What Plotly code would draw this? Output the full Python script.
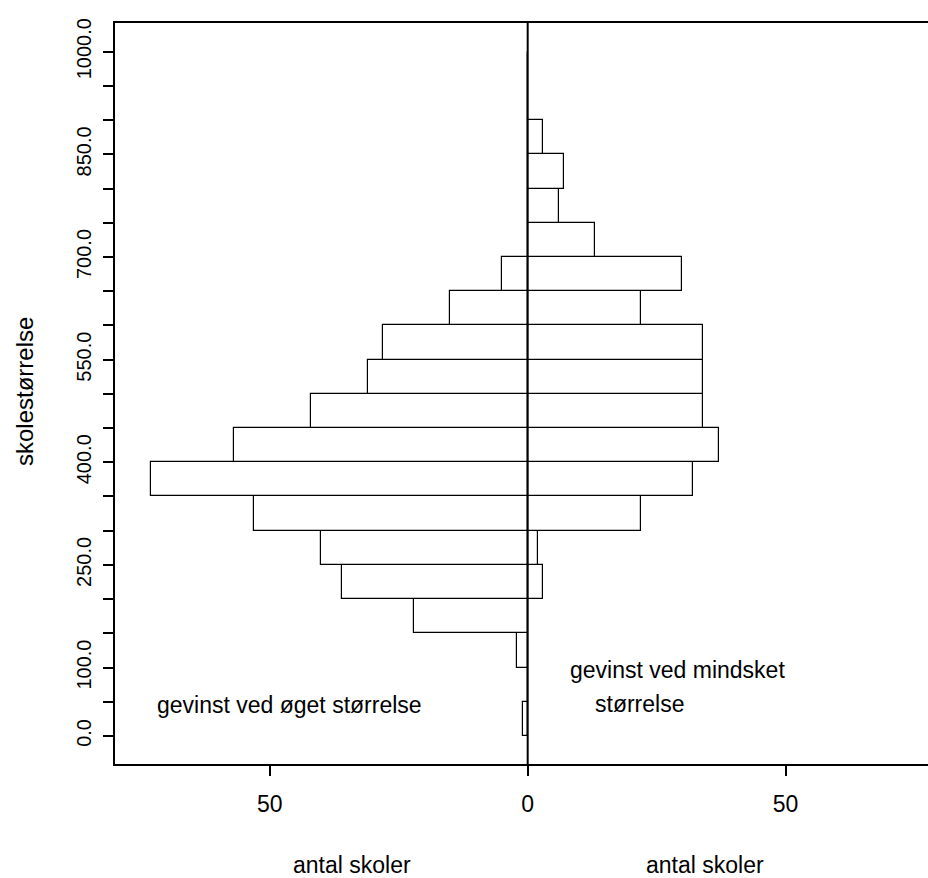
import plotly.graph_objects as go

# Bin lower edges (skolestørrelse), bin width 50
bin_starts = list(range(0, 1000, 50))
# Counts: gevinst ved øget størrelse (drawn to the left)
left_counts = [1, 0, 2, 22, 36, 40, 53, 73, 57, 42, 31, 28, 15, 5, 0, 0, 0, 0, 0, 0]
# Counts: gevinst ved mindsket størrelse (drawn to the right)
right_counts = [0, 0, 0, 0, 3, 2, 22, 32, 37, 34, 34, 34, 22, 30, 13, 6, 7, 3, 0, 0]

y_tick_vals = list(range(0, 1001, 50))
y_labelled = {0: "0.0", 100: "100.0", 250: "250.0", 400: "400.0", 550: "550.0",
              700: "700.0", 850: "850.0", 1000: "1000.0"}
y_tick_text = [y_labelled.get(v, "") for v in y_tick_vals]

x_tick_vals = [-50, 0, 50]
x_tick_text = ["50", "0", "50"]

BIN = 50
centers = [b + BIN / 2 for b in bin_starts]

FONT = "Liberation Sans, Arial, sans-serif"

fig = go.Figure()
fig.add_trace(go.Bar(
    y=centers, x=[-v for v in left_counts], orientation="h", width=BIN,
    marker=dict(color="white", line=dict(color="black", width=1.2)),
    showlegend=False, hoverinfo="skip"))
fig.add_trace(go.Bar(
    y=centers, x=right_counts, orientation="h", width=BIN,
    marker=dict(color="white", line=dict(color="black", width=1.2)),
    showlegend=False, hoverinfo="skip"))

# centre line at zero
fig.add_shape(type="line", x0=0, x1=0, y0=0, y1=1, xref="x", yref="paper",
              line=dict(color="black", width=2))

W, H = 928, 878
L, R, T, B = 115, 0, 23, 114
pw, ph = W - L - R, H - T - B

def px(x):
    return (x - L) / pw

def py(y):
    return (H - B - y) / ph

fig.update_layout(
    width=W, height=H, barmode="relative", bargap=0,
    margin=dict(l=L, r=R, t=T, b=B),
    paper_bgcolor="white", plot_bgcolor="white",
    font=dict(family=FONT, size=23, color="black"),
    xaxis=dict(range=[-80, 77.6], tickvals=x_tick_vals, ticktext=x_tick_text,
               ticks="outside", ticklen=10, tickwidth=1.5, tickcolor="black",
               showline=True, linecolor="black", linewidth=1.5, mirror=True,
               showgrid=False, zeroline=False, tickfont=dict(size=23),
               ticklabelstandoff=9),
    yaxis=dict(range=[-41, 1042], tickvals=y_tick_vals, ticktext=y_tick_text,
               ticks="outside", ticklen=10, tickwidth=1.5, tickcolor="black",
               showline=True, linecolor="black", linewidth=1.5, mirror=False,
               showgrid=False, zeroline=False, tickangle=-90,
               tickfont=dict(size=20), ticklabelstandoff=4),
    annotations=[
        dict(text="antal skoler", x=px(352), y=py(865), xref="paper", yref="paper",
             showarrow=False, xanchor="center", yanchor="middle", font=dict(size=23)),
        dict(text="antal skoler", x=px(705), y=py(865), xref="paper", yref="paper",
             showarrow=False, xanchor="center", yanchor="middle", font=dict(size=23)),
        dict(text="skolestørrelse", x=px(24), y=py(392), xref="paper", yref="paper",
             showarrow=False, xanchor="center", yanchor="middle", textangle=-90,
             font=dict(size=24)),
        dict(text="gevinst ved øget størrelse", x=px(155), y=py(705), xref="paper", yref="paper",
             showarrow=False, xanchor="left", yanchor="middle", font=dict(size=23)),
        dict(text="gevinst ved mindsket", x=px(568), y=py(670), xref="paper", yref="paper",
             showarrow=False, xanchor="left", yanchor="middle", font=dict(size=23)),
        dict(text="størrelse", x=px(593), y=py(704), xref="paper", yref="paper",
             showarrow=False, xanchor="left", yanchor="middle", font=dict(size=23)),
    ],
)

fig.write_html("out.html", config={"displayModeBar": False},
               post_script="document.body.style.margin='0';document.body.style.overflow='hidden';")
